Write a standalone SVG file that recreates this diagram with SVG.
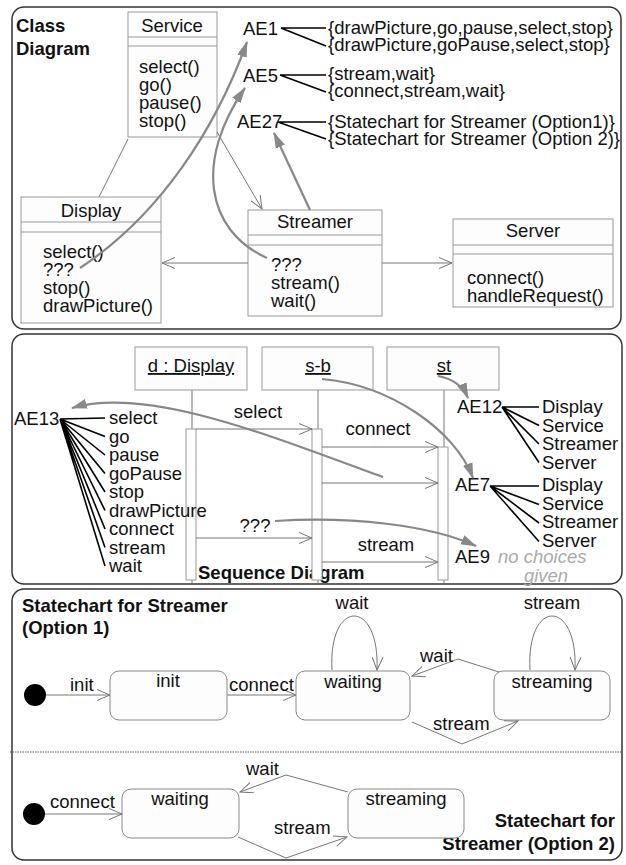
<svg xmlns="http://www.w3.org/2000/svg" width="626" height="865" viewBox="0 0 626 865">
<defs>
<marker id="open" markerUnits="userSpaceOnUse" markerWidth="14" markerHeight="12" refX="13" refY="6" orient="auto" viewBox="0 0 14 12"><path d="M0,0.5 L13,6 L0,11.5" fill="none" stroke="#777" stroke-width="1"/></marker>
<marker id="fill" markerUnits="userSpaceOnUse" markerWidth="17" markerHeight="11" refX="15" refY="5.5" orient="auto" viewBox="0 0 17 11"><path d="M0,0.5 L16,5.5 L0,10.5 z" fill="#888"/></marker>
</defs>
<style>
text{font-family:"Liberation Sans",Arial,sans-serif;font-size:18.5px;fill:#111}
.b{font-weight:bold}
.m{text-anchor:middle}
.e{text-anchor:end}
.panel{fill:#fff;stroke:#333;stroke-width:1.5}
.box{fill:#fdfdfd;stroke:#999;stroke-width:1}
.sep{stroke:#999;stroke-width:1}
.thin{fill:none;stroke:#777;stroke-width:1}
.ar{marker-end:url(#open)}
.thick{fill:none;stroke:#888;stroke-width:2.2;marker-end:url(#fill)}
.fan{fill:none;stroke:#000;stroke-width:1.6}
.state{fill:#fdfdfd;stroke:#888;stroke-width:1}
.u{text-decoration:underline}
.note{fill:#aaa;font-style:italic}
</style>
<rect width="626" height="865" fill="#fff"/>

<g id="panels">
<rect class="panel" x="12" y="7" width="609" height="322" rx="12"/>
<rect class="panel" x="12" y="334" width="610" height="250" rx="12"/>
<rect class="panel" x="12" y="589" width="610" height="271" rx="12"/>
<line x1="10" y1="752" x2="623" y2="752" stroke="#555" stroke-width="1" stroke-dasharray="1.5,1"/>
<text class="b" x="16" y="32">Class</text>
<text class="b" x="16" y="55">Diagram</text>
<text class="b" x="198" y="579">Sequence Diagram</text>
<text class="b" x="22" y="612">Statechart for Streamer</text>
<text class="b" x="22" y="634">(Option 1)</text>
<text class="b e" x="615" y="827">Statechart for</text>
<text class="b e" x="615" y="850">Streamer (Option 2)</text>
</g>

<!-- Class diagram nodes -->
<g id="service">
<rect class="box" x="128" y="12" width="89" height="125"/>
<line class="sep" x1="128" y1="37" x2="217" y2="37"/>
<line class="sep" x1="128" y1="46" x2="217" y2="46"/>
<text class="m" x="172" y="32">Service</text>
<text x="139" y="73">select()</text>
<text x="139" y="91">go()</text>
<text x="139" y="109">pause()</text>
<text x="139" y="127">stop()</text>
</g>
<g id="display">
<rect class="box" x="21" y="197" width="140" height="126"/>
<line class="sep" x1="21" y1="222" x2="161" y2="222"/>
<line class="sep" x1="21" y1="232" x2="161" y2="232"/>
<text class="m" x="91" y="217">Display</text>
<text x="43" y="258">select()</text>
<text x="43" y="276">???</text>
<text x="43" y="294">stop()</text>
<text x="43" y="312">drawPicture()</text>
</g>
<g id="streamer">
<rect class="box" x="248" y="210" width="134" height="106"/>
<line class="sep" x1="248" y1="235" x2="382" y2="235"/>
<line class="sep" x1="248" y1="245" x2="382" y2="245"/>
<text class="m" x="315" y="228">Streamer</text>
<text x="271" y="271">???</text>
<text x="271" y="289">stream()</text>
<text x="271" y="307">wait()</text>
</g>
<g id="server">
<rect class="box" x="453" y="219" width="160" height="88"/>
<line class="sep" x1="453" y1="245" x2="613" y2="245"/>
<line class="sep" x1="453" y1="254" x2="613" y2="254"/>
<text class="m" x="533" y="237">Server</text>
<text x="467" y="284">connect()</text>
<text x="467" y="302">handleRequest()</text>
</g>
<g id="ae1">
<text x="243" y="35">AE1</text>
<path class="fan" d="M281,28 L326,28 M281,28 L326,46"/>
<text x="328" y="34">{drawPicture,go,pause,select,stop}</text>
<text x="328" y="51">{drawPicture,goPause,select,stop}</text>
</g>
<g id="ae5">
<text x="243" y="82">AE5</text>
<path class="fan" d="M280,75 L326,75 M280,75 L326,92"/>
<text x="328" y="80">{stream,wait}</text>
<text x="328" y="97">{connect,stream,wait}</text>
</g>
<g id="ae27">
<text x="237" y="128">AE27</text>
<path class="fan" d="M278,122 L326,122 M278,122 L326,139"/>
<text x="328" y="128">{Statechart for Streamer (Option1)}</text>
<text x="328" y="145">{Statechart for Streamer (Option 2)}</text>
</g>

<!-- Sequence diagram nodes -->
<g id="lifeline-d">
<line class="thin" x1="192" y1="390" x2="192" y2="583"/>
<rect class="box" x="135" y="347" width="112" height="43"/>
<text class="m u" x="191" y="372">d : Display</text>
<rect class="box" x="186" y="429" width="10" height="151"/>
</g>
<g id="lifeline-sb">
<line class="thin" x1="318" y1="390" x2="318" y2="583"/>
<rect class="box" x="262" y="347" width="111" height="43"/>
<text class="m u" x="318" y="372">s-b</text>
<rect class="box" x="312" y="429" width="10" height="151"/>
</g>
<g id="lifeline-st">
<line class="thin" x1="444" y1="390" x2="444" y2="583"/>
<rect class="box" x="387" y="347" width="112" height="43"/>
<text class="m u" x="444" y="372">st</text>
<rect class="box" x="438" y="447" width="10" height="133"/>
</g>
<g id="ae13">
<text x="14" y="425">AE13</text>
<path class="fan" d="M60,419 L105,418 M60,419 L105,436.5 M60,419 L105,455 M60,419 L105,473.5 M60,419 L105,492 M60,419 L105,510.5 M60,419 L105,529 M60,419 L105,547.5 M60,419 L105,566"/>
<text x="109" y="424">select</text>
<text x="109" y="442.5">go</text>
<text x="109" y="461">pause</text>
<text x="109" y="479.5">goPause</text>
<text x="109" y="498">stop</text>
<text x="109" y="516.5">drawPicture</text>
<text x="109" y="535">connect</text>
<text x="109" y="553.5">stream</text>
<text x="109" y="572">wait</text>
</g>
<g id="ae12">
<text x="457" y="413">AE12</text>
<path class="fan" d="M502,407 L539,407 M502,407 L539,425.5 M502,407 L539,444 M502,407 L539,462.5"/>
<text x="542" y="413">Display</text>
<text x="542" y="431.5">Service</text>
<text x="542" y="450">Streamer</text>
<text x="542" y="468.5">Server</text>
</g>
<g id="ae7">
<text x="455" y="491">AE7</text>
<path class="fan" d="M490,486 L539,486 M490,486 L539,504.5 M490,486 L539,523 M490,486 L539,541.5"/>
<text x="542" y="491">Display</text>
<text x="542" y="509.5">Service</text>
<text x="542" y="528">Streamer</text>
<text x="542" y="547">Server</text>
</g>
<g id="ae9">
<text x="455" y="563">AE9</text>
<text class="note" x="498" y="563">no choices</text>
<text class="note m" x="546" y="582">given</text>
</g>

<!-- Statechart option 1 -->
<g id="s1-initial"><circle cx="35" cy="695" r="11" fill="#000"/></g>
<g id="s1-init">
<rect class="state" x="110" y="671" width="117" height="49" rx="9"/>
<text class="m" x="168" y="687">init</text>
</g>
<g id="s1-waiting">
<rect class="state" x="296" y="671" width="114" height="49" rx="9"/>
<text class="m" x="353" y="688">waiting</text>
</g>
<g id="s1-streaming">
<rect class="state" x="494" y="671" width="116" height="49" rx="9"/>
<text class="m" x="552" y="688">streaming</text>
</g>

<!-- Statechart option 2 -->
<g id="s2-initial"><circle cx="34" cy="814" r="11" fill="#000"/></g>
<g id="s2-waiting">
<rect class="state" x="122" y="789" width="117" height="49" rx="9"/>
<text class="m" x="180" y="805">waiting</text>
</g>
<g id="s2-streaming">
<rect class="state" x="348" y="789" width="116" height="49" rx="9"/>
<text class="m" x="406" y="805">streaming</text>
</g>

<g id="connectors">
<!-- class diagram -->
<line class="thin" x1="128" y1="139" x2="99" y2="197"/>
<line class="thin ar" x1="217" y1="132" x2="262" y2="209"/>
<line class="thin ar" x1="248" y1="263" x2="162" y2="263"/>
<line class="thin ar" x1="382" y1="263" x2="452" y2="263"/>
<path class="thick" d="M80,268 C160,215 215,130 247,42"/>
<path class="thick" d="M267,258 C205,230 195,160 245,88"/>
<path class="thick" d="M310,210 L274,133"/>
<!-- sequence messages -->
<line class="thin ar" x1="196" y1="429" x2="312" y2="429"/>
<text class="m" x="258" y="418">select</text>
<line class="thin ar" x1="322" y1="447" x2="438" y2="447"/>
<text class="m" x="378" y="435">connect</text>
<line class="thin ar" x1="322" y1="483" x2="438" y2="483"/>
<line class="thin ar" x1="196" y1="538" x2="312" y2="538"/>
<text class="m" x="255" y="532">???</text>
<line class="thin ar" x1="322" y1="562" x2="438" y2="562"/>
<text class="m" x="386" y="551">stream</text>
<path class="thick" d="M383,477 C280,440 150,385 72,408"/>
<path class="thick" d="M438,376 Q460,380 468,398"/>
<path class="thick" d="M322,379 C390,385 455,430 473,478"/>
<path class="thick" d="M275,521 C350,516 430,525 476,546"/>
<!-- statechart 1 -->
<line class="thin ar" x1="46" y1="695" x2="110" y2="695"/>
<text x="70" y="691">init</text>
<line class="thin ar" x1="227" y1="695" x2="296" y2="695"/>
<text x="229" y="691">connect</text>
<path class="thin ar" d="M332,670 C328,598 380,598 377,670"/>
<text class="m" x="352" y="609">wait</text>
<path class="thin ar" d="M530,670 C526,598 578,598 575,670"/>
<text class="m" x="552" y="609">stream</text>
<path class="thin ar" d="M499,672 L458,659 L412,676"/>
<text x="420" y="662">wait</text>
<path class="thin ar" d="M412,722 L462,744 L518,721"/>
<text x="433" y="730">stream</text>
<!-- statechart 2 -->
<line class="thin ar" x1="45" y1="814" x2="122" y2="814"/>
<text x="50" y="808">connect</text>
<path class="thin ar" d="M348,792 L286,775 L240,792"/>
<text x="246" y="775">wait</text>
<path class="thin ar" d="M238,837 L286,858 L347,837"/>
<text x="274" y="834">stream</text>
</g>
</svg>
